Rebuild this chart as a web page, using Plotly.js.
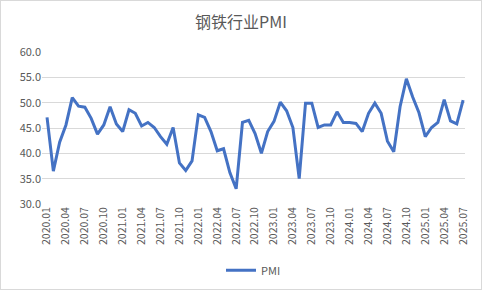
<!DOCTYPE html>
<html>
<head>
<meta charset="utf-8">
<script src="https://cdn.plot.ly/plotly-3.0.1.min.js"></script>
<style>
html,body{margin:0;padding:0;background:#fff;}
#wrap{width:482px;height:290px;box-sizing:border-box;border:1px solid #d9d9d9;overflow:hidden;}
#chart{width:480px;height:288px;}
</style>
</head>
<body>
<div id="wrap"><div id="chart"></div></div>
<script>
var months = [
"2020.01","2020.02","2020.03","2020.04","2020.05","2020.06","2020.07","2020.08","2020.09","2020.10","2020.11","2020.12",
"2021.01","2021.02","2021.03","2021.04","2021.05","2021.06","2021.07","2021.08","2021.09","2021.10","2021.11","2021.12",
"2022.01","2022.02","2022.03","2022.04","2022.05","2022.06","2022.07","2022.08","2022.09","2022.10","2022.11","2022.12",
"2023.01","2023.02","2023.03","2023.04","2023.05","2023.06","2023.07","2023.08","2023.09","2023.10","2023.11","2023.12",
"2024.01","2024.02","2024.03","2024.04","2024.05","2024.06","2024.07","2024.08","2024.09","2024.10","2024.11","2024.12",
"2025.01","2025.02","2025.03","2025.04","2025.05","2025.06","2025.07"
];
var pmi = [
47.1,36.5,42.2,45.6,51.0,49.3,49.1,46.9,43.8,45.6,49.2,45.8,
44.3,48.6,47.9,45.4,46.1,45.1,43.3,41.8,45.1,38.1,36.6,38.5,
47.6,47.1,44.3,40.5,40.9,36.2,33.0,46.1,46.5,43.9,40.0,44.3,
46.3,50.1,48.4,45.1,35.0,49.9,49.9,45.1,45.6,45.6,48.2,46.1,
46.1,45.9,44.3,47.9,49.9,47.9,42.4,40.3,49.2,54.7,51.1,48.0,
43.3,45.1,46.1,50.6,46.4,45.8,50.5
];
var tickLabels = ["2020.01","2020.04","2020.07","2020.10","2021.01","2021.04","2021.07","2021.10",
"2022.01","2022.04","2022.07","2022.10","2023.01","2023.04","2023.07","2023.10",
"2024.01","2024.04","2024.07","2024.10","2025.01","2025.04","2025.07"];
var yTicks = [30,35,40,45,50,55,60];

var font = '"Noto Sans CJK SC", "Noto Sans", sans-serif';
Plotly.newPlot('chart', [{
  x: months, y: pmi, type: 'scatter', mode: 'lines', name: 'PMI',
  line: {color: '#4472C4', width: 3}
}], {
  width: 480, height: 288,
  margin: {l: 41, r: 16, t: 51, b: 85, autoexpand: false},
  paper_bgcolor: '#ffffff', plot_bgcolor: '#ffffff',
  title: {text: '钢铁行业PMI', x: 0.5, xanchor: 'center', y: 0.925, yanchor: 'middle',
          font: {family: font, size: 16, color: '#595959'}},
  xaxis: {type: 'category', tickmode: 'array', tickvals: tickLabels, ticktext: tickLabels,
          range: [-0.8, 66.3], tickangle: -90, showgrid: false, zeroline: false,
          showline: false, ticks: '', automargin: false,
          tickfont: {family: font, size: 10.5, color: '#595959'}},
  yaxis: {range: [30, 60], tickvals: yTicks, tickformat: '.1f', showgrid: true,
          gridcolor: '#d9d9d9', gridwidth: 1, zeroline: false, showline: false, ticks: '',
          automargin: false, tickfont: {family: font, size: 11, color: '#595959'}},
  showlegend: true,
  legend: {orientation: 'h', x: 0.5, xanchor: 'center', yref: 'container', y: 0.065, yanchor: 'middle',
           font: {family: font, size: 11, color: '#595959'}, itemwidth: 30},
  font: {family: font}
}, {displayModeBar: false, staticPlot: true});
</script>
</body>
</html>
